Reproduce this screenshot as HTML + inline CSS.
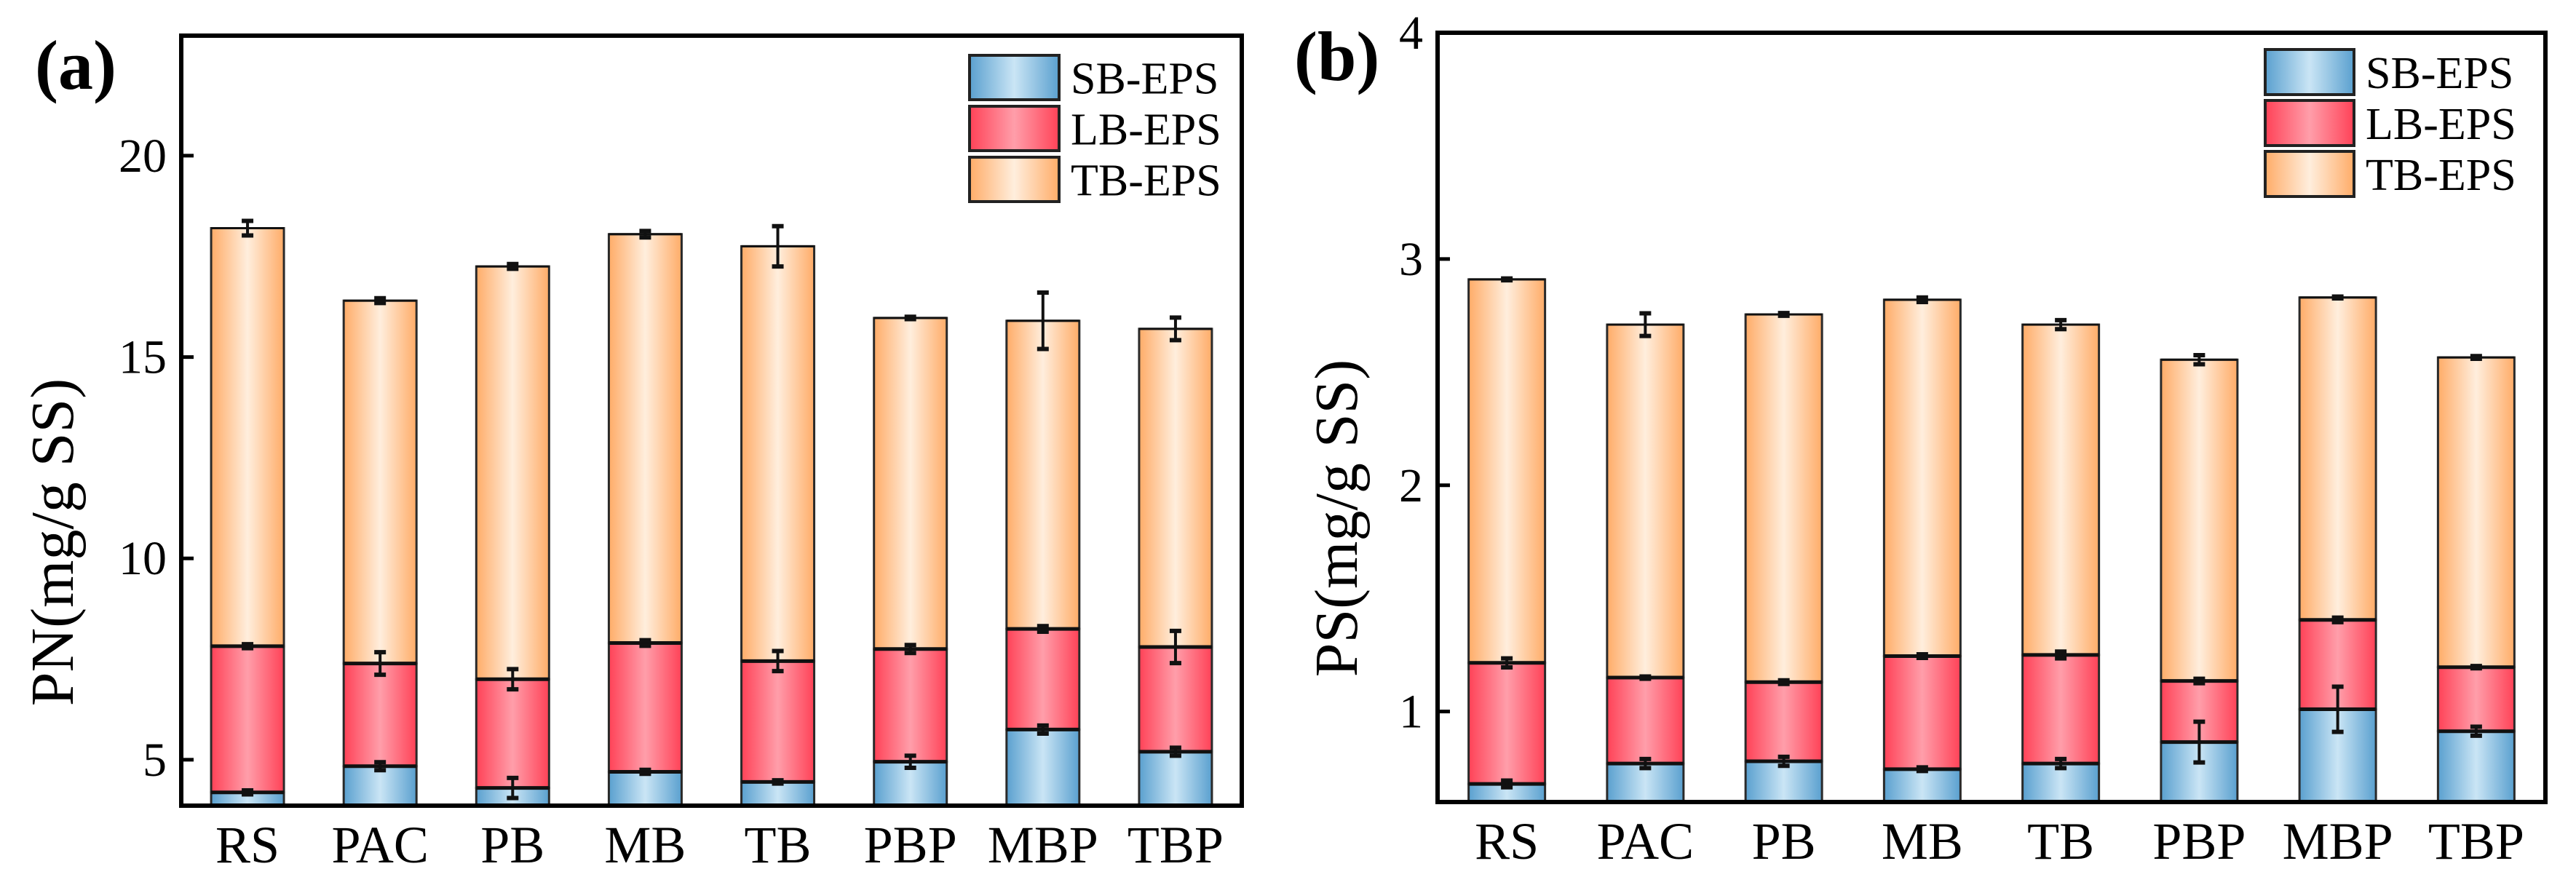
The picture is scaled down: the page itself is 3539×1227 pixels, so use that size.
<!DOCTYPE html>
<html><head><meta charset="utf-8">
<style>
html,body{margin:0;padding:0;background:#fff;}
svg{display:block;font-family:"Liberation Serif",serif;}
svg text{font-family:"Liberation Serif",serif;}
</style></head>
<body>
<svg id="chart" width="3539" height="1227" viewBox="0 0 3539 1227" xmlns="http://www.w3.org/2000/svg">
<defs>
<linearGradient id="gSB" x1="0" x2="1" y1="0" y2="0"><stop offset="0" stop-color="#5aa0cf"/><stop offset="0.5" stop-color="#cae5f5"/><stop offset="1" stop-color="#5aa0cf"/></linearGradient>
<linearGradient id="gLB" x1="0" x2="1" y1="0" y2="0"><stop offset="0" stop-color="#ff4257"/><stop offset="0.5" stop-color="#ff9eaa"/><stop offset="1" stop-color="#ff4257"/></linearGradient>
<linearGradient id="gTB" x1="0" x2="1" y1="0" y2="0"><stop offset="0" stop-color="#ffac68"/><stop offset="0.5" stop-color="#ffeedd"/><stop offset="1" stop-color="#ffac68"/></linearGradient>
</defs>
</svg>
<script>
const categories = ["RS","PAC","PB","MB","TB","PBP","MBP","TBP"];
const seriesNames = ["SB-EPS","LB-EPS","TB-EPS"];
// Panel (a) PN: cumulative tops
const pnSB = [4.19,4.84,4.3,4.7,4.45,4.95,5.75,5.2];
const pnLB = [7.82,7.39,7.0,7.9,7.45,7.75,8.25,7.8];
const pnTB = [18.2,16.4,17.25,18.05,17.75,15.97,15.9,15.7];
const pnErrSB = [0.05,0.1,0.25,0.05,0.04,0.15,0.1,0.1];
const pnErrLB = [0.05,0.28,0.25,0.07,0.25,0.1,0.07,0.4];
const pnErrTB = [0.18,0.06,0.06,0.08,0.5,0.03,0.7,0.28];
const pnTicks = [5,10,15,20];
// Panel (b) PS: cumulative tops
const psSB = [0.68,0.77,0.78,0.745,0.77,0.865,1.01,0.913];
const psLB = [1.215,1.15,1.13,1.245,1.25,1.135,1.405,1.196];
const psTB = [2.91,2.71,2.755,2.82,2.71,2.555,2.83,2.565];
const psErrSB = [0.015,0.02,0.02,0.008,0.02,0.09,0.1,0.02];
const psErrLB = [0.02,0.005,0.008,0.008,0.015,0.01,0.01,0.005];
const psErrTB = [0.004,0.05,0.006,0.01,0.02,0.02,0.004,0.006];
const psTicks = [1,2,3,4];

const NS="http://www.w3.org/2000/svg";
const svg=document.getElementById('chart');
function mk(tag,attrs,parent){const e=document.createElementNS(NS,tag);for(const k in attrs)e.setAttribute(k,attrs[k]);(parent||svg).appendChild(e);return e;}

function panel(cfg){
  const g=mk('g',{});
  
  
  const L=cfg.left,R=cfg.right,T=cfg.top,B=cfg.bottom;
  const y=v=>B-(v-cfg.ymin)/(cfg.ymax-cfg.ymin)*(B-T);
  const slot=(R-L)/categories.length;
  const x=i=>L+slot*(i+0.5);
  const bw=cfg.bw;
  const stacks=[cfg.sb,cfg.lb,cfg.tb];
  const errs=[cfg.esb,cfg.elb,cfg.etb];
  const grads=['url(#gSB)','url(#gLB)','url(#gTB)'];
  categories.forEach((c,i)=>{
    let base=cfg.ymin;
    for(let s=0;s<3;s++){
      const top=stacks[s][i];
      const r=mk('rect',{x:x(i)-bw/2,y:y(top),width:bw,height:y(base)-y(top),fill:grads[s],stroke:'#2a2a2a','stroke-width':3},g);
      
      
      base=top;
    }
    for(let s=0;s<3;s++){
      const top=stacks[s][i];
      mk('line',{x1:x(i)-bw/2,x2:x(i)+bw/2,y1:y(top),y2:y(top),stroke:'#111','stroke-width':s<2?5:3},g);
    }
    for(let s=0;s<3;s++){
      const v=stacks[s][i],e=errs[s][i];
      const eg=mk('g',{stroke:'#111','stroke-width':4},g);
      
      
      const y1=y(v+e),y2=y(v-e);
      mk('line',{x1:x(i),x2:x(i),y1:y1-2,y2:y2+2},eg);
      mk('line',{x1:x(i)-8,x2:x(i)+8,y1:y1,y2:y1,'stroke-width':6},eg);
      mk('line',{x1:x(i)-8,x2:x(i)+8,y1:y2,y2:y2,'stroke-width':6},eg);
    }
    const t=mk('text',{x:x(i),y:B+78,'text-anchor':'middle','font-size':72,fill:'#000'},g);
    t.textContent=c;
    
    
  });
  const f=mk('rect',{x:L,y:T,width:R-L,height:B-T,fill:'none',stroke:'#000','stroke-width':6},g);
  
  
  cfg.ticks.forEach(v=>{
    mk('line',{x1:L,x2:L+17,y1:y(v),y2:y(v),stroke:'#000','stroke-width':5},g);
    const t=mk('text',{x:L-20,y:y(v)+22,'text-anchor':'end','font-size':66,fill:'#000'},g);
    t.textContent=String(v);
    
    
  });
  const yt=mk('text',{x:0,y:0,'text-anchor':'middle','font-size':84,fill:'#000',transform:'translate('+cfg.titleX+','+cfg.titleY+') rotate(-90)'},g);
  yt.textContent=cfg.title;
  
  
  const pl=mk('text',{x:cfg.labX,y:cfg.labY,'font-size':96,'font-weight':'bold',fill:'#000'},g);
  pl.textContent=cfg.label;
  
  
  const lg=mk('g',{},g);
  
  
  seriesNames.forEach((n,k)=>{
    const yy=cfg.legY+k*cfg.legStep;
    const it=mk('g',{},lg);
    
    
    mk('rect',{x:cfg.legX,y:yy,width:cfg.legW,height:cfg.legH,fill:grads[k],stroke:'#222','stroke-width':4},it);
    const t=mk('text',{x:cfg.legX+cfg.legW+16,y:yy+cfg.legH/2+22,'font-size':62,fill:'#000'},it);
    t.textContent=n;
  });
}
panel({id:'pn',left:249,right:1706,top:49,bottom:1107,ymin:3.86,ymax:22.98,bw:100,
  sb:pnSB,lb:pnLB,tb:pnTB,esb:pnErrSB,elb:pnErrLB,etb:pnErrTB,ticks:pnTicks,
  title:'PN(mg/g SS)',titleX:100,titleY:745,label:'(a)',labX:48,labY:122,
  legX:1332,legY:76,legW:123,legH:61,legStep:70});
panel({id:'ps',left:1975,right:3497,top:45,bottom:1102,ymin:0.6,ymax:4.0,bw:105,
  sb:psSB,lb:psLB,tb:psTB,esb:psErrSB,elb:psErrLB,etb:psErrTB,ticks:psTicks,
  title:'PS(mg/g SS)',titleX:1864,titleY:712,label:'(b)',labX:1778,labY:110,
  legX:3112,legY:68,legW:122,legH:62,legStep:70});
</script>
</body></html>
